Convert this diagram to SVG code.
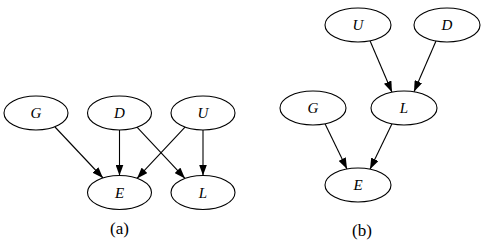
<svg xmlns="http://www.w3.org/2000/svg" width="487" height="242" viewBox="0 0 487 242">
<style>
.n ellipse{fill:#fff;stroke:#000;stroke-width:1.1}
.n text{font-style:italic;font-size:15px;text-anchor:middle}
.e line{stroke:#000;stroke-width:1.1;marker-end:url(#ah)}
.cap{font-size:17px;text-anchor:middle}
</style>
<defs>
<marker id="ah" markerUnits="userSpaceOnUse" markerWidth="11" markerHeight="8" viewBox="0 0 11 8" refX="11" refY="4" orient="auto">
<path d="M0,0 L11,4 L0,8 z" fill="#000"/>
</marker>
</defs>
<rect width="487" height="242" fill="#fff"/>
<g id="connectors" class="e">
<line x1="55" y1="127" x2="103" y2="178"/>
<line x1="119.5" y1="130" x2="119.5" y2="175.5"/>
<line x1="137" y1="127.2" x2="185" y2="178.4"/>
<line x1="185" y1="127.2" x2="137" y2="178.4"/>
<line x1="203" y1="130" x2="203" y2="175.5"/>
<line x1="370" y1="40.8" x2="392" y2="92.2"/>
<line x1="436" y1="41" x2="414" y2="91.8"/>
<line x1="325" y1="123.8" x2="347" y2="169"/>
<line x1="392" y1="123.8" x2="370" y2="169.2"/>
</g>
<g font-family="'Liberation Serif','Times New Roman','DejaVu Serif',serif">
<g id="a-G" class="n"><ellipse cx="36" cy="113" rx="32" ry="17"/><text x="36" y="118">G</text></g>
<g id="a-D" class="n"><ellipse cx="119.5" cy="113" rx="32" ry="17"/><text x="119.5" y="118">D</text></g>
<g id="a-U" class="n"><ellipse cx="203" cy="113" rx="32" ry="17"/><text x="203" y="118">U</text></g>
<g id="a-E" class="n"><ellipse cx="119.5" cy="192.5" rx="32" ry="17"/><text x="119.5" y="197.5">E</text></g>
<g id="a-L" class="n"><ellipse cx="203" cy="192.5" rx="32" ry="17"/><text x="203" y="197.5">L</text></g>
<g id="b-U" class="n"><ellipse cx="358" cy="25" rx="33" ry="17"/><text x="358" y="30">U</text></g>
<g id="b-D" class="n"><ellipse cx="447" cy="25" rx="33" ry="17"/><text x="447" y="30">D</text></g>
<g id="b-G" class="n"><ellipse cx="313" cy="108" rx="33" ry="17"/><text x="313" y="113">G</text></g>
<g id="b-L" class="n"><ellipse cx="404" cy="108" rx="33" ry="17"/><text x="404" y="113">L</text></g>
<g id="b-E" class="n"><ellipse cx="358" cy="185" rx="33" ry="17"/><text x="358" y="190">E</text></g>
<text class="cap" x="119.5" y="234">(a)</text>
<text class="cap" x="362" y="236">(b)</text>
</g>
</svg>
